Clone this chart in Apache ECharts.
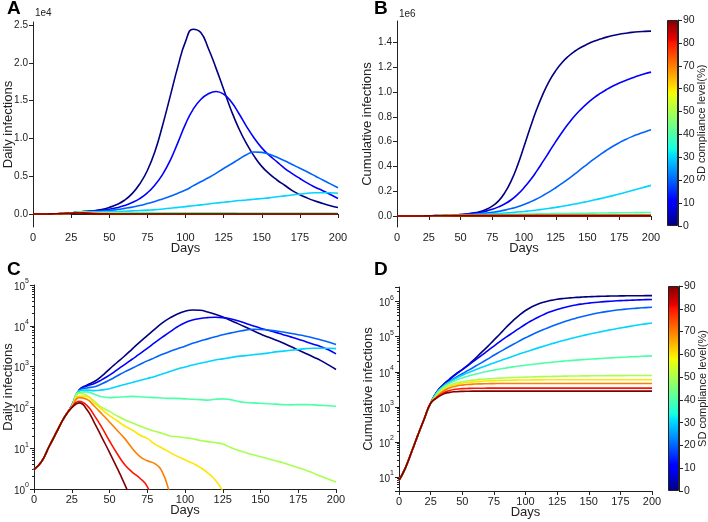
<!DOCTYPE html>
<html><head><meta charset="utf-8">
<script src="https://cdn.jsdelivr.net/npm/echarts@6/dist/echarts.min.js"></script>
<style>html,body{margin:0;padding:0;background:#fff}#c{width:708px;height:522px}</style>
</head><body><div id="c"></div>
<script>
// ---------------- data ----------------
const days = [0,5,10,15,20,25,30,35,40,45,50,55,60,65,70,75,80,85,90,95,100,105,110,115,120,125,130,135,140,145,150,155,160,165,170,175,180,185,190,195,200];
const levels = [0,10,20,30,40,50,60,70,80,90]; // SD compliance level (%)

// daily infections per SD level
const daily0  = [3.0,4.7,11,25,56,110,270,350,430,590,871,1259,1820,2692,3981,5754,8300,11750,15600,19500,22800,24450,24000,21900,19300,16500,13700,11300,9300,7650,6300,5300,4500,3800,3100,2550,2100,1720,1400,1100,850];
const daily10 = [3.0,4.7,11,25,56,110,268,335,385,480,617,832,1122,1514,2042,2800,3850,5250,7100,9450,11900,13850,15150,15900,16200,15850,14850,13300,11600,10050,8750,7750,6900,6050,5350,4700,4080,3550,3080,2580,2050];
const daily20 = [3.0,4.7,11,25,56,108,262,300,320,380,468,589,741,912,1122,1380,1660,1995,2344,2754,3162,3715,4266,4786,5370,6026,6607,7244,7850,8200,8150,7900,7500,7050,6550,6050,5550,5030,4500,3990,3467];
const daily30 = [3.0,4.7,11,25,56,107,255,265,257,269,288,324,363,407,457,513,575,661,759,871,977,1096,1202,1318,1445,1549,1660,1778,1862,1950,2042,2138,2291,2399,2512,2630,2754,2818,2818,2818,2754];
const daily40 = [3.0,4.7,11,25,56,105,234,240,209,182,174,178,182,186,182,178,174,170,166,166,162,158,155,151,158,162,155,141,132,129,126,123,120,117,115,117,117,115,112,110,107];
const daily50 = [3.0,4.7,11,25,56,104,224,195,140,100,80,62,50,42,35,30,26,23,20,19,18,17,15.5,14.5,13.8,12.6,10.5,8.9,7.8,6.9,6.2,5.5,4.9,4.4,3.8,3.3,2.9,2.45,2.04,1.74,1.48];
const daily60 = [3.0,4.7,11,25,56,103,191,186,128,89,63,47,35,28,21,17.4,12.6,10,7.9,6.3,5.2,4.3,3.4,2.5,1.66,0.89,0.32,0,0,0,0,0,0,0,0,0,0,0,0,0,0];
const daily70 = [3.0,4.7,11,25,56,102,174,158,107,69,44,27.5,17.4,10,6.3,4.9,4.2,2.6,0.79,0.25,0,0,0,0,0,0,0,0,0,0,0,0,0,0,0,0,0,0,0,0,0];
const daily80 = [3.0,4.7,11,25,56,100,141,112,63,32,15,7.4,4.0,2.6,1.86,1.15,0.4,0,0,0,0,0,0,0,0,0,0,0,0,0,0,0,0,0,0,0,0,0,0,0,0];
const daily90 = [3.0,4.7,11,25,56,98,129,89,42,18.2,7.9,3.3,1.32,0.5,0,0,0,0,0,0,0,0,0,0,0,0,0,0,0,0,0,0,0,0,0,0,0,0,0,0,0];

// cumulative infections per SD level
const cum0  = [7.9,17.8,52,158,457,1259,2700,4300,6200,8700,11500,16000,23500,35000,52000,80000,122000,190000,285000,410000,560000,715000,860000,985000,1090000,1172000,1237000,1288000,1328000,1360000,1386000,1408000,1426000,1442000,1455000,1465000,1473000,1480000,1485000,1488000,1490000];
const cum10 = [7.9,17.8,52,158,457,1259,2700,4200,6000,8400,11500,15600,21200,28800,39500,54000,73500,98500,131000,174000,228000,290000,362000,440000,520000,600000,675000,745000,808000,862000,910000,952000,988000,1020000,1048000,1072000,1093000,1112000,1130000,1146000,1160000];
const cum20 = [7.9,17.8,52,158,457,1259,2600,3900,5300,6900,8800,11100,14100,18000,23000,29500,37500,47500,60000,75000,93000,114000,138000,165000,195000,228000,263000,300000,339000,379000,419000,458000,495000,530000,562000,591000,617000,640000,660000,678000,695000];
const cum30 = [7.9,17.8,52,158,457,1259,2550,3850,5150,6500,7900,9500,11200,13200,15400,17900,20700,23900,27600,31900,36700,42100,48100,54700,61900,69700,78100,87100,96700,107000,117500,128500,140000,152000,164500,177500,191000,205000,219000,233000,247000];
const cum40 = [7.9,17.8,52,158,457,1259,2450,3650,4750,5750,6650,7550,8450,9350,10250,11150,12050,12900,13750,14600,15400,16200,17000,17750,18500,19300,20100,20800,21500,22150,22800,23400,24000,24600,25200,25750,26300,26850,27400,27950,28500];
const cum50 = [7.9,17.8,52,158,457,1259,2150,3300,4150,4750,5180,5550,5830,6070,6270,6440,6590,6720,6830,6930,7030,7120,7200,7280,7350,7420,7480,7530,7575,7615,7650,7680,7705,7730,7750,7768,7784,7798,7810,7820,7828];
const cum60 = [7.9,17.8,52,158,457,1259,2000,2950,3750,4300,4700,4980,5190,5350,5470,5570,5650,5710,5760,5800,5830,5855,5875,5890,5900,5906,5910,5910,5910,5910,5910,5910,5910,5910,5910,5910,5910,5910,5910,5910,5910];
const cum70 = [7.9,17.8,52,158,457,1259,1950,2770,3440,3880,4160,4340,4450,4520,4560,4590,4610,4630,4637,4640,4640,4640,4640,4640,4640,4640,4640,4640,4640,4640,4640,4640,4640,4640,4640,4640,4640,4640,4640,4640,4640];
const cum80 = [7.9,17.8,52,158,457,1259,1860,2490,2930,3170,3290,3345,3375,3390,3400,3408,3412,3413,3413,3413,3413,3413,3413,3413,3413,3413,3413,3413,3413,3413,3413,3413,3413,3413,3413,3413,3413,3413,3413,3413,3413];
const cum90 = [7.9,17.8,52,158,457,1259,1800,2300,2580,2700,2760,2785,2795,2800,2800,2800,2800,2800,2800,2800,2800,2800,2800,2800,2800,2800,2800,2800,2800,2800,2800,2800,2800,2800,2800,2800,2800,2800,2800,2800,2800];

// tick values
const dailyLinTicks = [0,5000,10000,15000,20000,25000];
const cumLinTicks = [0,200000,400000,600000,800000,1000000,1200000,1400000];

// ---------------- styling helpers ----------------
const FONT = 'Liberation Sans, Arial, Helvetica, sans-serif';
const TXT = '#222';
function interp(xs, ys, x){
  for (let i=1;i<xs.length;i++){ if (x<=xs[i]) { const t=(x-xs[i-1])/(xs[i]-xs[i-1]); return ys[i-1]+t*(ys[i]-ys[i-1]); } }
  return ys[ys.length-1];
}
function jet(x){
  const r=interp([0,0.35,0.66,0.89,1],[0,0,1,1,0.5],x);
  const g=interp([0,0.125,0.375,0.64,0.91,1],[0,0,1,1,0,0],x);
  const b=interp([0,0.11,0.34,0.65,1],[0.5,1,1,0,0],x);
  return 'rgb('+Math.round(r*255)+','+Math.round(g*255)+','+Math.round(b*255)+')';
}
const dailyAll = [daily0,daily10,daily20,daily30,daily40,daily50,daily60,daily70,daily80,daily90];
const cumAll = [cum0,cum10,cum20,cum30,cum40,cum50,cum60,cum70,cum80,cum90];

const axisLine = {show:true, lineStyle:{color:'#222', width:1}};
const axisTick = {show:true, inside:false, length:4, lineStyle:{color:'#222', width:1}};
const lbl = {fontSize:11, color:TXT, fontFamily:FONT, margin:5};
const ylbl = {fontSize:10, color:TXT, fontFamily:FONT, margin:5};
const nameStyle = {fontSize:13, color:TXT, fontFamily:FONT};

function xAx(g){
  return {type:'value', gridIndex:g, min:0, max:200, interval:25, axisLine, axisTick,
    axisLabel:{...lbl, margin:5}, splitLine:{show:false},
    name:'Days', nameLocation:'middle', nameGap:15, nameMoveOverlap:false,
    nameTextStyle:nameStyle};
}
const logRich = {
  b:{fontSize:10, color:TXT, fontFamily:FONT, lineHeight:14, verticalAlign:'bottom'},
  s:{fontSize:7, color:TXT, fontFamily:FONT, verticalAlign:'top'}
};
function logFmt(v){
  const e = Math.log10(v), r = Math.round(e);
  if (Math.abs(e-r) > 1e-6) return '';
  return '{b|10}{s|' + r + '}';
}
function cbarAx(g){
  return {type:'value', gridIndex:g, min:0, max:90, interval:10, position:'right',
    axisLine:{show:true, lineStyle:{color:'#222', width:1}}, axisTick:{show:true, length:4, lineStyle:{color:'#222'}},
    axisLabel:{fontSize:10.5, color:TXT, fontFamily:FONT, margin:5}, splitLine:{show:false},
    name:'SD compliance level(%)', nameLocation:'middle', nameRotate:90, nameGap:18, nameMoveOverlap:false,
    nameTextStyle:{fontSize:11, color:TXT, fontFamily:FONT}};
}

const stops = [];
for (let i=0;i<=100;i++){ stops.push({offset:i/100, color:jet(i/100)}); }

const series = [];
levels.forEach((lv,i)=>{
  const col = jet(lv/90);
  const base = {type:'line', showSymbol:false, smooth:0.5, silent:true,
    lineStyle:{width:1.6, color:col}, itemStyle:{color:col}, clip:true};
  series.push({...base, xAxisIndex:0, yAxisIndex:0, data: days.map((d,k)=>[d, dailyAll[i][k]])});
  series.push({...base, xAxisIndex:1, yAxisIndex:1, data: days.map((d,k)=>[d, cumAll[i][k]])});
  series.push({...base, xAxisIndex:2, yAxisIndex:2, data: days.map((d,k)=>[d, dailyAll[i][k] > 0 ? dailyAll[i][k] : '-'])});
  series.push({...base, xAxisIndex:3, yAxisIndex:3, data: days.map((d,k)=>[d, cumAll[i][k]])});
});
[4,5].forEach(g=>{
  series.push({type:'bar', xAxisIndex:g, yAxisIndex:g, data:[90], barWidth:'100%', silent:true,
    itemStyle:{color:new echarts.graphic.LinearGradient(0,1,0,0,stops), borderColor:'#222', borderWidth:1}});
});

const G = (l,t,w,h)=>({left:l, top:t, width:w, height:h, containLabel:false, outerBoundsMode:'none'});
const option = {
  animation:false,
  backgroundColor:'#fff',
  textStyle:{fontFamily:FONT},
  grid:[
    G(33,22,305,205),
    G(397,21,254,206),
    G(34,285,302,204),
    G(399,287,253,204),
    G(667,20,11,206),
    G(668,286,11,205)
  ],
  xAxis:[xAx(0), xAx(1), xAx(2), xAx(3),
    {type:'category', gridIndex:4, data:[''], show:false},
    {type:'category', gridIndex:5, data:[''], show:false}],
  yAxis:[
    {type:'value', gridIndex:0, min:-1720, max:25400, axisLine, axisTick:{...axisTick, customValues:dailyLinTicks},
      axisLabel:{...ylbl, customValues:dailyLinTicks, formatter:v=>(v/1e4).toFixed(1)}, splitLine:{show:false},
      name:'Daily infections', nameLocation:'middle', nameGap:18, nameMoveOverlap:false, nameTextStyle:nameStyle},
    {type:'value', gridIndex:1, min:-88600, max:1572000, axisLine, axisTick:{...axisTick, customValues:cumLinTicks},
      axisLabel:{...ylbl, customValues:cumLinTicks, formatter:v=>(v/1e6).toFixed(1)}, splitLine:{show:false},
      name:'Cumulative infections', nameLocation:'middle', nameGap:23, nameMoveOverlap:false, nameTextStyle:nameStyle},
    {type:'log', logBase:10, gridIndex:2, min:1, max:100000, axisLine, axisTick,
      minorTick:{show:true, splitNumber:9, length:2, lineStyle:{color:'#222'}},
      axisLabel:{...ylbl, formatter:logFmt, rich:logRich}, splitLine:{show:false}, minorSplitLine:{show:false},
      name:'Daily infections', nameLocation:'middle', nameGap:19, nameMoveOverlap:false, nameTextStyle:nameStyle},
    {type:'log', logBase:10, gridIndex:3, min:3.94, max:2630000, axisLine, axisTick,
      minorTick:{show:true, splitNumber:9, length:2, lineStyle:{color:'#222'}},
      axisLabel:{...ylbl, formatter:logFmt, rich:logRich}, splitLine:{show:false}, minorSplitLine:{show:false},
      name:'Cumulative infections', nameLocation:'middle', nameGap:24, nameMoveOverlap:false, nameTextStyle:nameStyle},
    cbarAx(4), cbarAx(5)
  ],
  graphic:[
    {type:'text', left:7, top:-1, style:{text:'A', fontSize:19, fontWeight:'bold', fill:'#000', fontFamily:FONT}},
    {type:'text', left:374, top:-1, style:{text:'B', fontSize:19, fontWeight:'bold', fill:'#000', fontFamily:FONT}},
    {type:'text', left:7, top:260, style:{text:'C', fontSize:19, fontWeight:'bold', fill:'#000', fontFamily:FONT}},
    {type:'text', left:374, top:260, style:{text:'D', fontSize:19, fontWeight:'bold', fill:'#000', fontFamily:FONT}},
    {type:'text', left:35, top:8, style:{text:'1e4', fontSize:10, fill:TXT, fontFamily:FONT}},
    {type:'text', left:399, top:9, style:{text:'1e6', fontSize:10, fill:TXT, fontFamily:FONT}}
  ],
  series
};
const chart = echarts.init(document.getElementById('c'), null, {renderer:'canvas'});
chart.setOption(option);
</script>
</body></html>
